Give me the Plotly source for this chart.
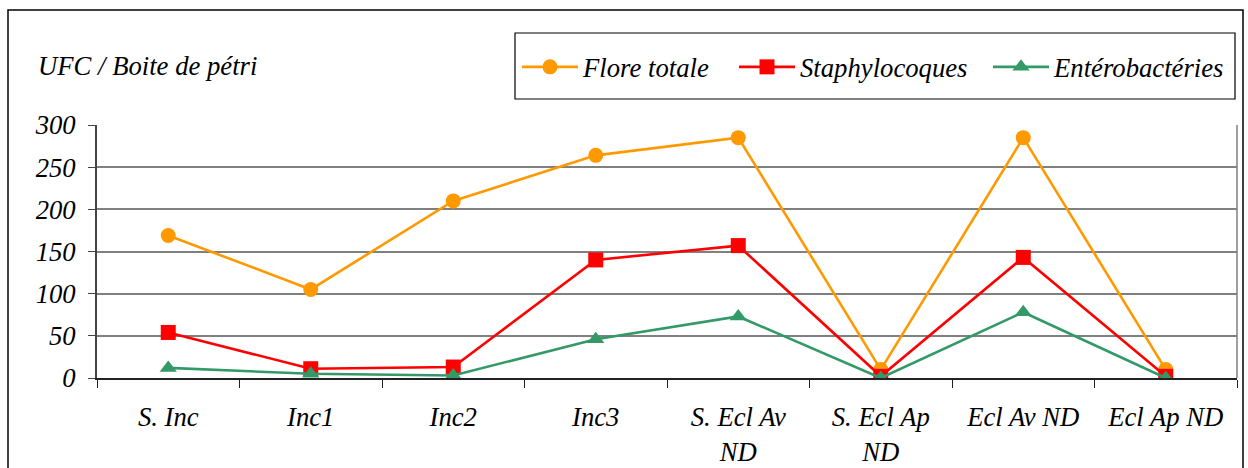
import plotly.graph_objects as go

categories = ["S. Inc", "Inc1", "Inc2", "Inc3", "S. Ecl Av<br>ND", "S. Ecl Ap<br>ND", "Ecl Av ND", "Ecl Ap ND"]
flore_totale = [169, 105, 210, 264, 285, 10, 285, 10]
staphylocoques = [54, 11, 13, 140, 157, 2, 143, 2]
enterobacteries = [12, 5, 3, 46, 73, 0, 78, 0]
y_ticks = [0, 50, 100, 150, 200, 250, 300]

FAMILY = "Liberation Serif, Times New Roman, serif"
FONT = dict(family=FAMILY, size=26.7, color="black", style="italic")

# plot area in pixels
PL, PR, PT, PB = 97, 1237, 125, 378
PW, PH = PR - PL, PB - PT


def px(x):
    return (x - PL) / PW


def py(y):
    return (PB - y) / PH


fig = go.Figure()
fig.add_trace(go.Scatter(x=categories, y=flore_totale, name="Flore totale", mode="lines+markers",
                         line=dict(color="#FF9900", width=2.6), legend="legend",
                         marker=dict(symbol="circle", size=15, color="#FF9900")))
fig.add_trace(go.Scatter(x=categories, y=staphylocoques, name="Staphylocoques", mode="lines+markers",
                         line=dict(color="#FF0000", width=2.6), legend="legend2",
                         marker=dict(symbol="square", size=15, color="#FF0000")))
fig.add_trace(go.Scatter(x=categories, y=enterobacteries, name="Entérobactéries", mode="lines+markers",
                         line=dict(color="#339966", width=2.6), legend="legend3",
                         marker=dict(symbol="triangle-up", size=15, color="#339966")))


def leg(center_x):
    return dict(orientation="h", x=px(center_x - 32), y=py(67), xanchor="left", yanchor="middle",
                font=FONT, bgcolor="rgba(0,0,0,0)", borderwidth=0, itemwidth=56,
                xref="paper", yref="paper")


fig.update_layout(
    width=1248, height=468,
    margin=dict(l=PL, r=1248 - PR, t=PT, b=468 - PB),
    paper_bgcolor="white", plot_bgcolor="white",
    font=FONT,
    showlegend=True,
    legend=leg(549), legend2=leg(766), legend3=leg(1020),
    xaxis=dict(type="category", showgrid=False, showline=True, linecolor="#222222", linewidth=2,
               ticks="outside", tickson="boundaries", ticklen=8, tickcolor="#222222", tickwidth=1,
               tickfont=FONT, ticklabelstandoff=14, range=[-0.5, 7.5], automargin=False),
    yaxis=dict(range=[0, 300], tickvals=y_ticks, showgrid=True, gridcolor="#808080", gridwidth=1.5,
               showline=True, linecolor="#444444", linewidth=2, ticks="outside", ticklen=7,
               tickcolor="#444444", tickfont=FONT, ticklabelstandoff=7, zeroline=False,
               automargin=False),
    annotations=[dict(text="UFC / Boite de pétri", xref="paper", yref="paper",
                      x=px(36), y=py(66), xanchor="left", yanchor="middle",
                      showarrow=False, font=FONT)],
    shapes=[
        dict(type="rect", xref="paper", yref="paper", x0=px(8), x1=px(1243),
             y0=py(475), y1=py(10), line=dict(color="black", width=1.5)),
        dict(type="rect", xref="paper", yref="paper", x0=px(515), x1=px(1235),
             y0=py(99), y1=py(33), line=dict(color="black", width=1.2)),
        dict(type="line", xref="paper", yref="paper", x0=1, x1=1, y0=0, y1=1,
             line=dict(color="#808080", width=1.5)),
    ],
)

fig.write_html("out.html")
